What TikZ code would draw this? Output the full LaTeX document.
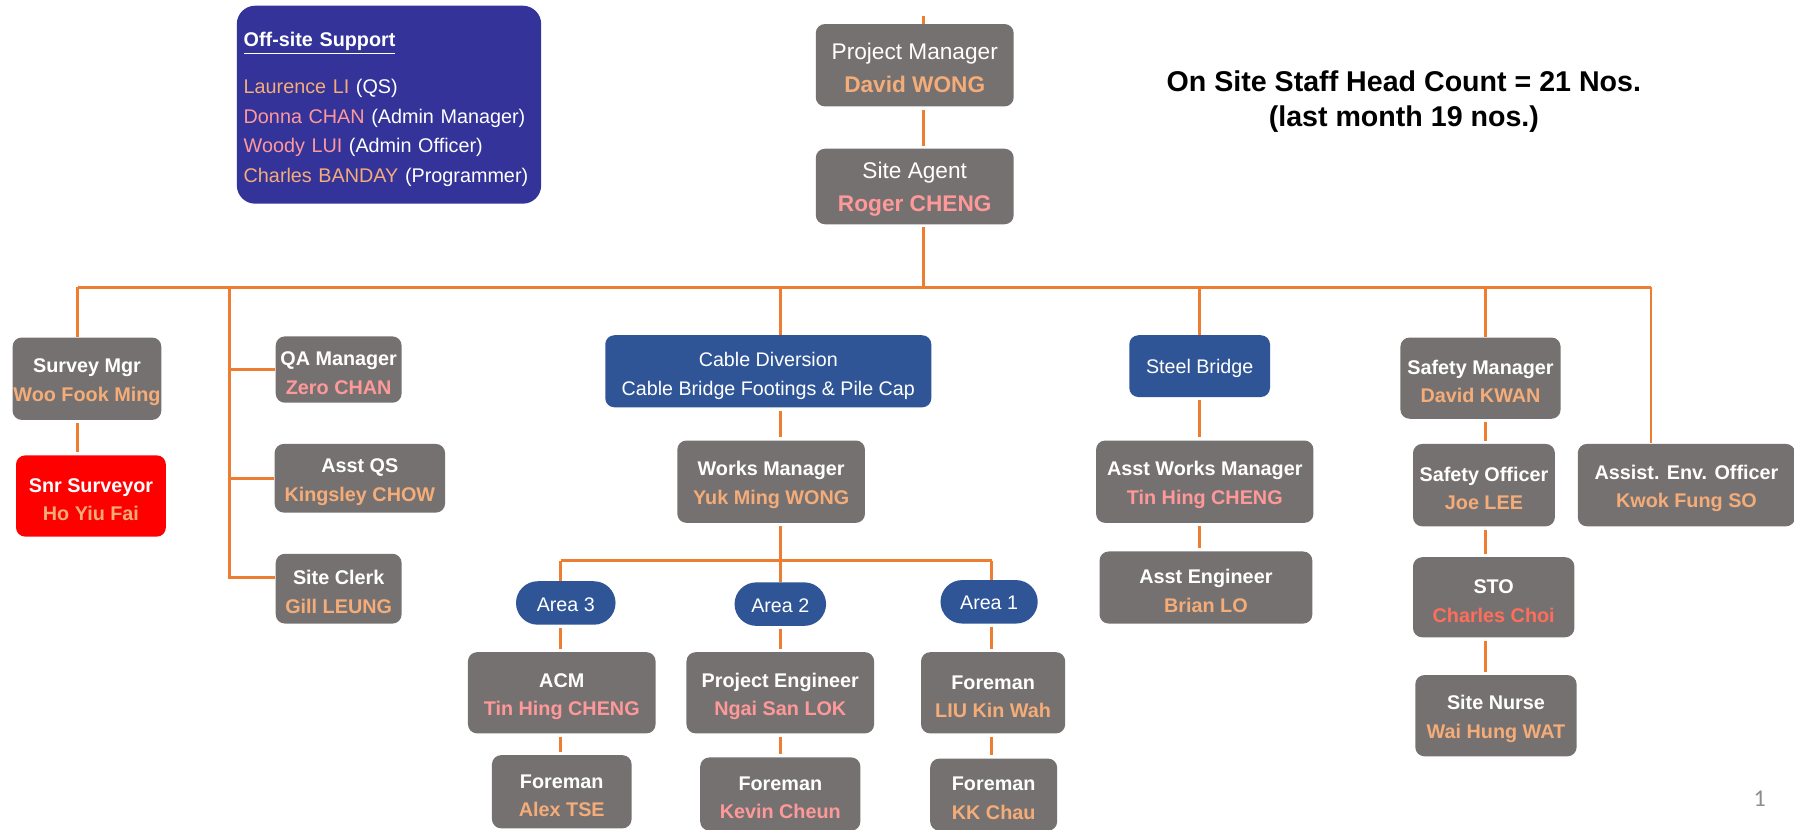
\documentclass[tikz,border=0pt]{standalone}
\usepackage{fontspec}
\setmainfont{Liberation Sans}
\newfontfamily\pgnumfont{Carlito}
\usetikzlibrary{backgrounds}
\definecolor{boxgray}{HTML}{767171}
\definecolor{boxblue}{HTML}{2F5597}
\definecolor{offblue}{HTML}{333399}
\definecolor{lineor}{HTML}{ED7D31}
\definecolor{ntan}{HTML}{F4AC78}
\definecolor{npink}{HTML}{FF9999}
\definecolor{nred}{HTML}{FF6E5A}
\definecolor{snrred}{HTML}{FF0000}
\newcommand\nameT[1]{\textcolor{ntan}{#1}}
\newcommand\nameP[1]{\textcolor{npink}{#1}}
\newcommand\nameR[1]{\textcolor{nred}{#1}}
\newcommand\lift[1][9.3pt]{\rule{0pt}{#1}}
\begin{document}
\begin{tikzpicture}[x=0.5pt,y=-0.5pt,
  box/.style={rectangle, rounded corners=4pt, fill=boxgray, text=white, align=center, inner sep=0pt, font=\fontsize{8.65}{12.5}\selectfont\bfseries},
  topbox/.style={box, font=\fontsize{9.9}{14.5}\selectfont},
  bluebox/.style={box, fill=boxblue, font=\fontsize{8.6}{13}\selectfont},
  pill/.style={bluebox, rounded corners=9.5pt},
  sz/.style 2 args={minimum width=#1*0.5pt, minimum height=#2*0.5pt},
  link/.style={draw=lineor, line width=1.3pt},
  gap/.style={link, shorten <=1.2pt, shorten >=1.2pt},
]
\clip (0,0) rectangle (1568,725);

% top
\node[topbox, sz={173}{72}] (pm) at (799.5,57) {\lift[9.3pt]Project Manager\\{\bfseries\nameT{David WONG}}};
\node[topbox, sz={173}{66}] (sa) at (799.5,163) {\lift[9.6pt]Site Agent\\{\bfseries\nameP{Roger CHENG}}};

% off-site support
\node[rectangle, rounded corners=8pt, fill=offblue, sz={266}{173}, text width=127pt, align=left, inner sep=3pt, text=white, font=\fontsize{8.65}{13}\selectfont] (off) at (340,91.5)
  {\lift[10.3pt]\textbf{\underline{Off-site Support}}\\[7.5pt]
   \nameT{Laurence LI} (QS)\\
   \nameP{Donna CHAN} (Admin Manager)\\
   \nameP{Woody LUI} (Admin Officer)\\
   \nameT{Charles BANDAY} (Programmer)};

% head count
\node[font=\fontsize{12.5}{15.5}\selectfont\bfseries, align=center, inner sep=0pt] (hc) at (1227,89)
  {On Site Staff Head Count = 21 Nos.\\(last month 19 nos.)};

% left group
\node[box, sz={130}{72}] (survey) at (76,331) {\lift Survey Mgr\\\nameT{Woo Fook Ming}};
\node[box, fill=snrred, sz={131}{71}] (snr) at (79.5,433.5) {\lift Snr Surveyor\\\nameT{Ho Yiu Fai}};
\node[box, sz={110}{58}] (qa) at (296,323) {\lift QA Manager\\\nameP{Zero CHAN}};
\node[box, sz={149}{60}] (aqs) at (314.5,418) {\lift Asst QS\\\nameT{Kingsley CHOW}};
\node[box, sz={110}{61}] (sc) at (296,514.5) {\lift Site Clerk\\\nameT{Gill LEUNG}};

% cable diversion group
\node[bluebox, sz={285}{63}] (cd) at (671.5,324.5) {\lift[10.3pt]Cable Diversion\\Cable Bridge Footings \& Pile Cap};
\node[box, sz={164}{72}] (wm) at (674,421) {\lift Works Manager\\\nameT{Yuk Ming WONG}};
\node[pill, sz={87}{38}] (a3) at (494.5,527) {\lift[7.2pt]Area 3};
\node[pill, sz={80}{38}] (a2) at (682,528) {\lift[7.2pt]Area 2};
\node[pill, sz={85}{38}] (a1) at (864.5,526) {\lift[7.2pt]Area 1};
\node[box, sz={164}{71}] (acm) at (491,605.5) {\lift ACM\\\nameP{Tin Hing CHENG}};
\node[box, sz={164}{71}] (pe) at (682,605.5) {\lift Project Engineer\\\nameP{Ngai San LOK}};
\node[box, sz={126}{71}] (f1) at (868,605.5) {\lift Foreman\\\nameT{LIU Kin Wah}};
\node[box, sz={122}{64}] (fa) at (491,692) {\lift Foreman\\\nameT{Alex TSE}};
\node[box, sz={140}{64}] (fk) at (682,694) {\lift Foreman\\\nameP{Kevin Cheun}};
\node[box, sz={111}{63}] (fc) at (868.5,694.5) {\lift Foreman\\\nameT{KK Chau}};

% steel bridge group
\node[bluebox, sz={123}{54}] (sb) at (1048.5,320) {\lift[8.2pt]Steel Bridge};
\node[box, sz={190}{72}] (awm) at (1053,421) {\lift Asst Works Manager\\\nameP{Tin Hing CHENG}};
\node[box, sz={186}{63}] (ae) at (1054,513.5) {\lift Asst Engineer\\\nameT{Brian LO}};

% safety group
\node[box, sz={140}{71}] (sm) at (1294,330.5) {\lift Safety Manager\\\nameT{David KWAN}};
\node[box, sz={124}{72}] (so) at (1297,424) {\lift Safety Officer\\\nameT{Joe LEE}};
\node[box, sz={141}{70}] (sto) at (1305.5,522) {\lift STO\\\nameR{Charles Choi}};
\node[box, sz={141}{71}] (sn) at (1307.5,625.5) {\lift Site Nurse\\\nameT{Wai Hung WAT}};
\node[box, sz={190}{72}] (aeo) at (1474,424) {\lift Assist. Env. Officer\\\nameT{Kwok Fung SO}};

% page number
\node[font=\pgnumfont\fontsize{10.5}{12}\selectfont, text=black!45, inner sep=0pt] (pg) at (1538,698) {1};

% coordinates
\coordinate (top) at (807,14);
\coordinate (busL) at (68,251);
\coordinate (busR) at (1443,251);
\coordinate (qspT) at (201,251);
\coordinate (qspB) at (201,505);
\coordinate (c2) at (682,251);
\coordinate (abusL) at (490,490);
\coordinate (abusR) at (867,490);
\coordinate (sbc) at (1048,251);
\coordinate (sfc) at (1298,251);

\begin{scope}[on background layer]
\fill[white] (0,0) rectangle (1568,725);
\draw[link] (top) -- (top |- pm.north);
\draw[gap] (pm.south -| top) -- (sa.north -| top);
\draw[link, shorten <=1.2pt] (sa.south -| top) -- (busL -| top);
\draw[link] (busL) -- (busR);
% left
\draw[link] (busL) -- (busL |- survey.north);
\draw[gap] (survey.south -| busL) -- (snr.north -| busL);
\draw[link] (qspT) -- (qspB) -- (qspB -| sc.west);
\draw[link] (qa.west -| qspT) -- (qa.west);
\draw[link] (aqs.west -| qspT) -- (aqs.west);
% cable diversion
\draw[link] (c2) -- (c2 |- cd.north);
\draw[gap] (cd.south -| c2) -- (wm.north -| c2);
\draw[link, shorten <=1.2pt] (wm.south -| c2) -- (a2.north -| c2);
\draw[link] (abusL) -- (abusR);
\draw[link] (abusL) -- (abusL |- a3.north);
\draw[link] (abusR) -- (abusR |- a1.north);
\draw[gap] (a3.south -| abusL) -- (acm.north -| abusL);
\draw[gap] (acm.south -| abusL) -- (fa.north -| abusL);
\draw[gap] (a2.south -| c2) -- (pe.north -| c2);
\draw[gap] (pe.south -| c2) -- (fk.north -| c2);
\draw[gap] (a1.south -| abusR) -- (f1.north -| abusR);
\draw[gap] (f1.south -| abusR) -- (fc.north -| abusR);
% steel bridge
\draw[link] (sbc) -- (sbc |- sb.north);
\draw[gap] (sb.south -| sbc) -- (awm.north -| sbc);
\draw[gap] (awm.south -| sbc) -- (ae.north -| sbc);
% safety
\draw[link] (sfc) -- (sfc |- sm.north);
\draw[gap] (sm.south -| sfc) -- (so.north -| sfc);
\draw[gap] (so.south -| sfc) -- (sto.north -| sfc);
\draw[gap] (sto.south -| sfc) -- (sn.north -| sfc);
% env officer
\draw[link] (busR) -- (busR |- aeo.north);
\end{scope}
\end{tikzpicture}
\end{document}
